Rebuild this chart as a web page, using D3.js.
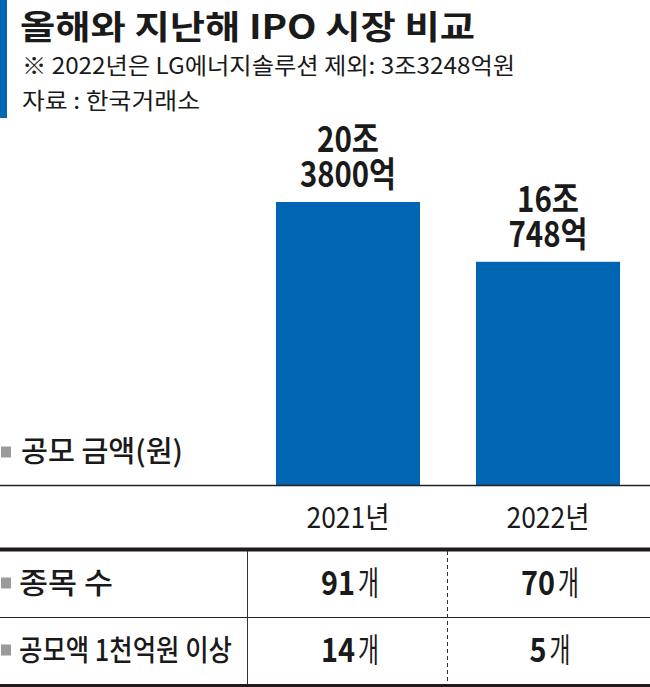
<!DOCTYPE html>
<html><head><meta charset="utf-8">
<script src="https://cdn.jsdelivr.net/npm/d3@7"></script>
<style>html,body{margin:0;padding:0;background:#fff;}svg{display:block;}</style>
</head><body>
<svg id="c" width="650" height="687"></svg>
<script>
const years = ["2021년", "2022년"];
const amounts = [20.38, 16.0748]; // 조 원
const amountLabels = [["20조", "3800억"], ["16조", "748억"]];
const rowLabels = ["종목 수", "공모액 1천억원 이상"];
const counts2021 = [91, 14];
const counts2022 = [70, 5];

const title = "올해와 지난해 IPO 시장 비교";
const note = "※ 2022년은 LG에너지솔루션 제외: 3조3248억원";
const source = "자료 : 한국거래소";
const amountTitle = "공모 금액(원)";

const FONT = "'Noto Sans CJK KR', 'Noto Sans', sans-serif";
const BLUE = "#0066b3";
const INK = "#1a1a1a";
const svg = d3.select("#c");

// header
svg.append("rect").attr("x", 0).attr("y", 0).attr("width", 7).attr("height", 118).attr("fill", BLUE);
svg.append("text").attr("x", 20).attr("y", 38.5).text(title)
  .attr("font-family", FONT).attr("font-weight", 700).attr("font-size", 33).attr("fill", INK)
  .attr("textLength", 455).attr("lengthAdjust", "spacingAndGlyphs");
svg.append("text").attr("x", 22).attr("y", 74).text(note)
  .attr("font-family", FONT).attr("font-weight", 400).attr("font-size", 23).attr("fill", INK)
  .attr("textLength", 493).attr("lengthAdjust", "spacingAndGlyphs");
svg.append("text").attr("x", 22).attr("y", 109).text(source)
  .attr("font-family", FONT).attr("font-weight", 400).attr("font-size", 23).attr("fill", INK)
  .attr("textLength", 178).attr("lengthAdjust", "spacingAndGlyphs");

// scales
const x = d3.scaleBand().domain(years).range([248, 648]).paddingInner(0.28).paddingOuter(0.14);
const y = d3.scaleLinear().domain([0, d3.max(amounts)]).range([485, 202]);

const data = years.map((yr, i) => ({ yr, v: amounts[i], lab: amountLabels[i] }));

svg.selectAll("rect.bar").data(data).join("rect").attr("class", "bar")
  .attr("x", d => x(d.yr)).attr("width", x.bandwidth())
  .attr("y", d => y(d.v)).attr("height", d => y(0) - y(d.v)).attr("fill", BLUE);

data.forEach(d => {
  const cx = x(d.yr) + x.bandwidth() / 2;
  const top = y(d.v);
  const w = s => s.replace(/[조억]/g, "").length * 17 + 28;
  svg.append("text").attr("x", cx).attr("y", top - 50).attr("text-anchor", "middle").text(d.lab[0])
    .attr("font-family", FONT).attr("font-weight", 700).attr("font-size", 35).attr("fill", INK)
    .attr("textLength", w(d.lab[0])).attr("lengthAdjust", "spacingAndGlyphs");
  svg.append("text").attr("x", cx).attr("y", top - 15).attr("text-anchor", "middle").text(d.lab[1])
    .attr("font-family", FONT).attr("font-weight", 700).attr("font-size", 35).attr("fill", INK)
    .attr("textLength", w(d.lab[1])).attr("lengthAdjust", "spacingAndGlyphs");
  svg.append("text").attr("x", cx).attr("y", 528).attr("text-anchor", "middle").text(d.yr)
    .attr("font-family", FONT).attr("font-weight", 400).attr("font-size", 29).attr("fill", INK)
    .attr("textLength", 83).attr("lengthAdjust", "spacingAndGlyphs");
});

// amount label
function marker(yc) {
  svg.append("rect").attr("x", 1).attr("y", yc - 5.5).attr("width", 10).attr("height", 11).attr("fill", "#9a9a9a");
}
marker(452);
svg.append("text").attr("x", 21).attr("y", 462).text(amountTitle)
  .attr("font-family", FONT).attr("font-weight", 500).attr("font-size", 29).attr("fill", INK)
  .attr("textLength", 162).attr("lengthAdjust", "spacingAndGlyphs");

// lines
svg.append("line").attr("x1", 0).attr("x2", 650).attr("y1", 485.5).attr("y2", 485.5).attr("stroke", "#222").attr("stroke-width", 1.3);
svg.append("line").attr("x1", 0).attr("x2", 650).attr("y1", 549.5).attr("y2", 549.5).attr("stroke", "#221a1a").attr("stroke-width", 4);
svg.append("line").attr("x1", 0).attr("x2", 650).attr("y1", 617.5).attr("y2", 617.5).attr("stroke", "#222").attr("stroke-width", 1.2);
svg.append("line").attr("x1", 0).attr("x2", 650).attr("y1", 685.5).attr("y2", 685.5).attr("stroke", "#221a1a").attr("stroke-width", 3);
svg.append("line").attr("x1", 247.5).attr("x2", 247.5).attr("y1", 551).attr("y2", 684).attr("stroke", "#333").attr("stroke-width", 1);
svg.append("line").attr("x1", 447.5).attr("x2", 447.5).attr("y1", 551).attr("y2", 684).attr("stroke", "#333").attr("stroke-width", 1).attr("stroke-dasharray", "4,3");

// table rows
const rowY = [583, 650];
const rowW = [94, 213];
rowLabels.forEach((lab, i) => {
  marker(rowY[i]);
  svg.append("text").attr("x", 19).attr("y", rowY[i] + 11).text(lab)
    .attr("font-family", FONT).attr("font-weight", 500).attr("font-size", 29).attr("fill", INK)
    .attr("textLength", rowW[i]).attr("lengthAdjust", "spacingAndGlyphs");
  [counts2021[i], counts2022[i]].forEach((v, j) => {
    const cx = x(years[j]) + x.bandwidth() / 2 + 2;
    const n = String(v);
    const numW = n.length * 17, unitW = 21;
    const left = cx - (numW + unitW + 3) / 2;
    svg.append("text").attr("x", left).attr("y", rowY[i] + 12).text(n)
      .attr("font-family", FONT).attr("font-weight", 700).attr("font-size", 33).attr("fill", INK)
      .attr("textLength", numW).attr("lengthAdjust", "spacingAndGlyphs");
    svg.append("text").attr("x", left + numW + 3).attr("y", rowY[i] + 12).text("개")
      .attr("font-family", FONT).attr("font-weight", 400).attr("font-size", 33).attr("fill", INK)
      .attr("textLength", unitW).attr("lengthAdjust", "spacingAndGlyphs");
  });
});
</script>
</body></html>
